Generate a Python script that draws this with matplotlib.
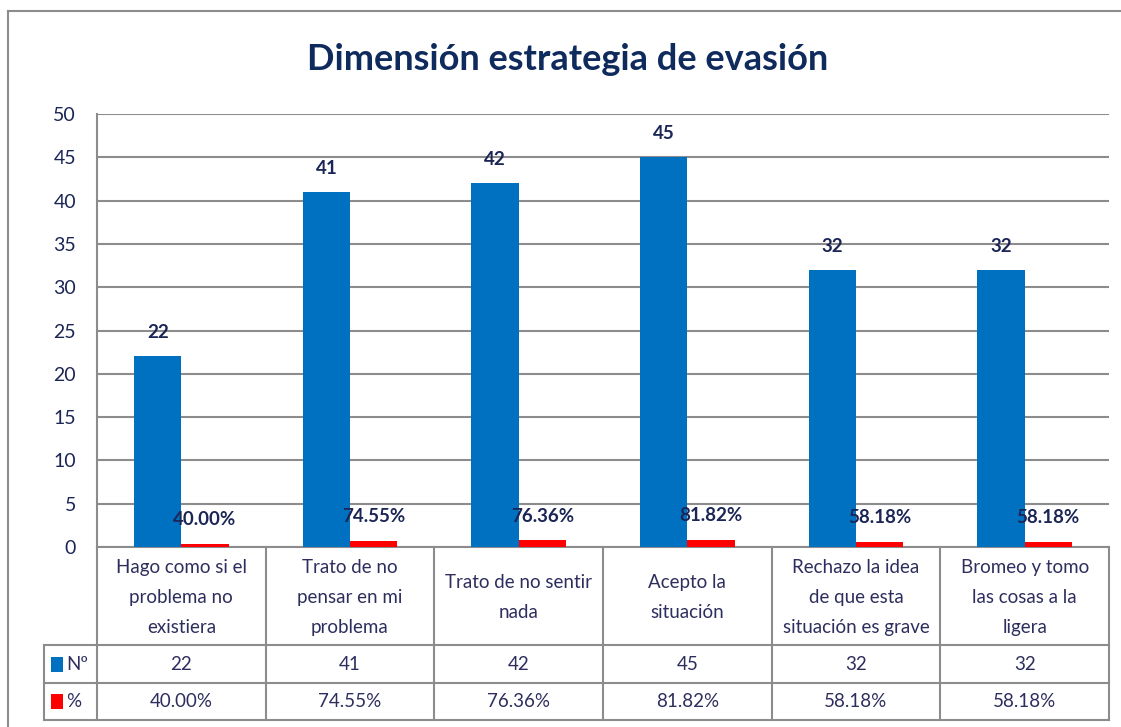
import matplotlib
matplotlib.use('Agg')
import matplotlib.pyplot as plt
from matplotlib.lines import Line2D
from matplotlib.patches import Rectangle
import numpy as np

plt.rcParams['font.family'] = ['Lato', 'DejaVu Sans']

title = "Dimensión estrategia de evasión"
categories = ["Hago como si el\nproblema no\nexistiera",
              "Trato de no\npensar en mi\nproblema",
              "Trato de no sentir\nnada",
              "Acepto la\nsituación",
              "Rechazo la idea\nde que esta\nsituación es grave",
              "Bromeo y tomo\nlas cosas a la\nligera"]
series_names = ["Nº", "%"]
counts = [22, 41, 42, 45, 32, 32]
percents = [0.4000, 0.7455, 0.7636, 0.8182, 0.5818, 0.5818]
yticks = [0, 5, 10, 15, 20, 25, 30, 35, 40, 45, 50]

BLUE = '#0070C0'
RED = '#FF0000'
NAVY = '#1B2656'
TXT = '#2E2E5E'
GRID = '#8C8C8C'

W, H = 1121, 727
fig = plt.figure(figsize=(W / 100, H / 100), dpi=100)
fig.patch.set_facecolor('white')

# plot area in pixels
L, R, T, B = 97, 1109, 114, 547
ax = fig.add_axes([L / W, (H - B) / H, (R - L) / W, (B - T) / H])

x = np.arange(len(categories))
bw = 0.28
ax.bar(x - bw / 2, counts, bw, color=BLUE, zorder=3)
ax.bar(x + bw / 2, percents, bw, color=RED, zorder=3)

for xi, v in zip(x, counts):
    ax.annotate(f"{v}", (xi - bw / 2, v), xytext=(0, 17), textcoords='offset points',
                ha='center', va='center', fontsize=13.5, fontweight='bold', color=NAVY, zorder=4)
for xi, v in zip(x, percents):
    ax.annotate(f"{v*100:.2f}%", (xi + bw / 2, v), xytext=(0, 17.5), textcoords='offset points',
                ha='center', va='center', fontsize=13.5, fontweight='bold', color=NAVY, zorder=4)

ax.set_xlim(-0.5, len(categories) - 0.5)
ax.set_ylim(0, 50)
ax.set_yticks(yticks)
ax.set_xticks([])
ax.tick_params(axis='y', length=0, pad=15, labelsize=14, labelcolor=NAVY)
ax.yaxis.grid(True, color=GRID, linewidth=1.5, zorder=0)
ax.set_axisbelow(True)
for s in ['right', 'bottom', 'top']:
    ax.spines[s].set_visible(False)
ax.spines['left'].set_color(GRID)
ax.spines['left'].set_linewidth(1.5)

# table (axes coordinates)
pw, ph = R - L, B - T
def ax_x(px):
    return (px - L) / pw
def ax_y(py):
    return (B - py) / ph

y_head = ax_y(645)
y_r1 = ax_y(683)
y_r2 = ax_y(720)
x_left = ax_x(44)
n = len(categories)
lkw = dict(color=GRID, linewidth=1.5, transform=ax.transAxes, clip_on=False)
ax.add_line(Line2D([0, 1], [0, 0], **lkw))
for yy in [y_head, y_r1, y_r2]:
    ax.add_line(Line2D([x_left, 1], [yy, yy], **lkw))
for i in range(n + 1):
    ax.add_line(Line2D([i / n, i / n], [0, y_r2], **lkw))
ax.add_line(Line2D([x_left, x_left], [y_head, y_r2], **lkw))

for i, cat in enumerate(categories):
    cx = (i + 0.5) / n
    ax.text(cx, (0 + y_head) / 2 - 1.5 / ph, cat, transform=ax.transAxes, ha='center', va='center',
            fontsize=13.5, color=TXT, linespacing=1.95)
    ax.text(cx, (y_head + y_r1) / 2, f"{counts[i]}", transform=ax.transAxes,
            ha='center', va='center', fontsize=13.5, color=TXT)
    ax.text(cx, (y_r1 + y_r2) / 2, f"{percents[i]*100:.2f}%", transform=ax.transAxes,
            ha='center', va='center', fontsize=13.5, color=TXT)

for (name, col, yc) in [(series_names[0], BLUE, (y_head + y_r1) / 2),
                        (series_names[1], RED, (y_r1 + y_r2) / 2)]:
    ax.add_patch(Rectangle((ax_x(51), yc - 7.5 / ph), 12 / pw, 15 / ph, transform=ax.transAxes,
                           facecolor=col, edgecolor='none', clip_on=False))
    ax.text(ax_x(66), yc, name, transform=ax.transAxes, ha='left', va='center',
            fontsize=13.5, color=TXT)

# outer chart frame
fig.add_artist(Line2D([8 / W, 8 / W], [0, 1 - 11 / H], color=GRID, linewidth=1.5,
                      transform=fig.transFigure))
fig.add_artist(Line2D([8 / W, 1], [1 - 11 / H, 1 - 11 / H], color=GRID, linewidth=1.5,
                      transform=fig.transFigure))

fig.text(568 / W, 1 - 60 / H, title, ha='center', va='center', fontsize=26,
         fontweight='bold', color='#0F2A5C')

fig.savefig('out.png', dpi=100, facecolor='white')
